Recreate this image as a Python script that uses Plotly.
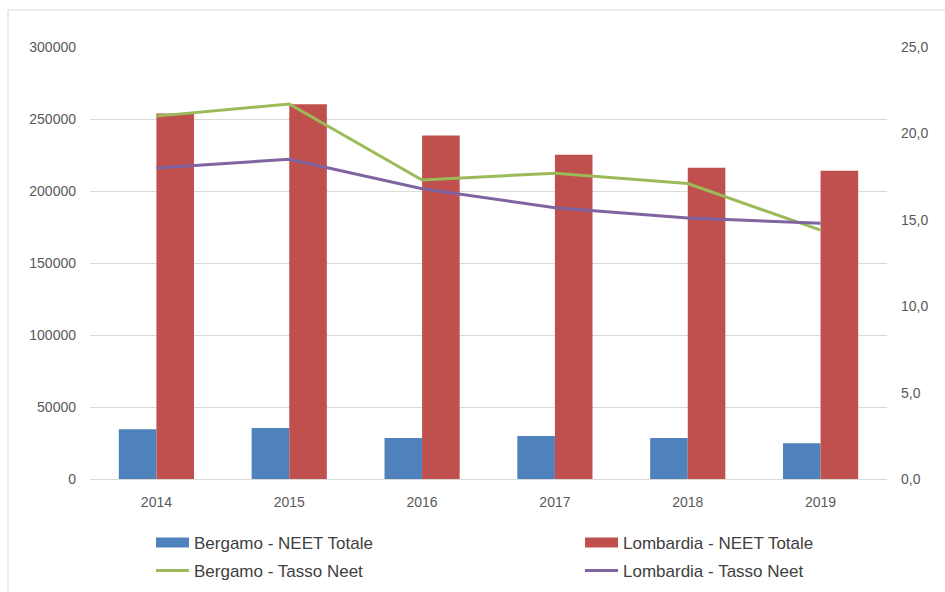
import plotly.graph_objects as go

years = ["2014", "2015", "2016", "2017", "2018", "2019"]
bergamo_neet = [34500, 35400, 28400, 29800, 28400, 24800]
lombardia_neet = [253800, 260200, 238500, 225100, 216100, 214000]
bergamo_tasso = [21.0, 21.7, 17.3, 17.7, 17.1, 14.4]
lombardia_tasso = [18.0, 18.5, 16.8, 15.7, 15.1, 14.8]

W, H = 945, 592
L, R, T, B = 90, 58, 47, 113
pw, ph = W - L - R, H - T - B

def px(xp):
    return (xp - L) / pw

def py(yp):
    return (H - B - yp) / ph

font_fam = "Liberation Sans, Arial, sans-serif"
BLUE, RED, GREEN, PURPLE = "#4F81BD", "#C0504D", "#9BBB59", "#8064A2"

fig = go.Figure()
fig.add_trace(go.Bar(x=years, y=bergamo_neet, name="Bergamo - NEET Totale",
                     marker=dict(color=BLUE, line=dict(width=0)), showlegend=False))
fig.add_trace(go.Bar(x=years, y=lombardia_neet, name="Lombardia - NEET Totale",
                     marker=dict(color=RED, line=dict(width=0)), showlegend=False))
fig.add_trace(go.Scatter(x=years, y=bergamo_tasso, name="Bergamo - Tasso Neet", mode="lines",
                         line=dict(color=GREEN, width=3), yaxis="y2", legend="legend3"))
fig.add_trace(go.Scatter(x=years, y=lombardia_tasso, name="Lombardia - Tasso Neet", mode="lines",
                         line=dict(color=PURPLE, width=3), yaxis="y2", legend="legend4"))
# legend keys for the bar series (wide rectangular swatches as in the reference)
fig.add_trace(go.Scatter(x=[None], y=[None], name="Bergamo - NEET Totale", mode="lines",
                         line=dict(color=BLUE, width=12), legend="legend"))
fig.add_trace(go.Scatter(x=[None], y=[None], name="Lombardia - NEET Totale", mode="lines",
                         line=dict(color=RED, width=12), legend="legend2"))

legend_common = dict(orientation="h", xanchor="left", yanchor="middle",
                     font=dict(family=font_fam, size=17, color="#404040"),
                     bgcolor="rgba(0,0,0,0)", itemwidth=33)

fig.update_layout(
    width=W, height=H,
    margin=dict(l=L, r=R, t=T, b=B, pad=0, autoexpand=False),
    paper_bgcolor="white", plot_bgcolor="white",
    separators=",.",
    barmode="group", bargap=0.434, bargroupgap=0,
    font=dict(family=font_fam, size=14, color="#595959"),
    xaxis=dict(type="category", showline=True, linecolor="#d9d9d9", linewidth=1,
               ticks="", tickfont=dict(size=14, color="#595959"), ticklabelstandoff=10,
               automargin=False),
    yaxis=dict(range=[0, 300000], dtick=50000, tickformat="d", showgrid=True,
               gridcolor="#d9d9d9", gridwidth=1, zeroline=False, showline=False,
               ticks="", tickfont=dict(size=14, color="#595959"), ticklabelstandoff=13,
               automargin=False),
    yaxis2=dict(range=[0, 25], dtick=5, tickformat=".1f", overlaying="y", side="right",
                showgrid=False, zeroline=False, showline=False, ticks="",
                tickfont=dict(size=14, color="#595959"), ticklabelstandoff=13,
                automargin=False),
    legend=dict(x=px(151), y=py(543), **legend_common),
    legend2=dict(x=px(580), y=py(543), **legend_common),
    legend3=dict(x=px(151), y=py(571), **legend_common),
    legend4=dict(x=px(580), y=py(571), **legend_common),
    shapes=[dict(type="rect", xref="paper", yref="paper",
                 x0=px(8), x1=px(960), y0=py(620), y1=py(10),
                 line=dict(color="#d9d9d9", width=1), fillcolor="rgba(0,0,0,0)", layer="below")],
)

fig.write_html("out.html", config={"displayModeBar": False},
               post_script="document.body.style.margin='0';")
